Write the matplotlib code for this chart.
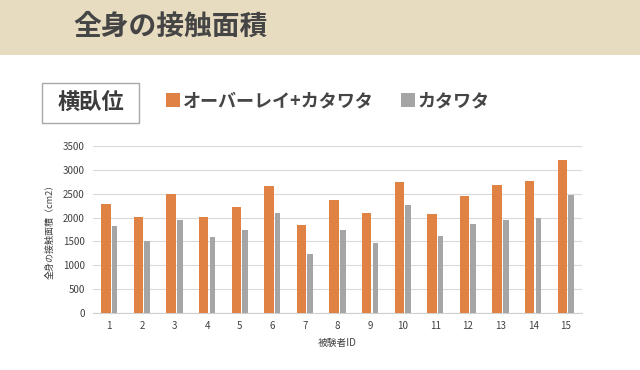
import numpy as np
import matplotlib
matplotlib.use("Agg")
import matplotlib.pyplot as plt
from matplotlib.patches import Rectangle

plt.rcParams['font.family'] = ['Noto Sans CJK JP', 'DejaVu Sans']

# data
subjects = [str(i) for i in range(1, 16)]
overlay = [2290, 2010, 2500, 2010, 2230, 2655, 1845, 2360, 2100, 2740, 2085, 2450, 2685, 2760, 3215]
cotton = [1830, 1515, 1945, 1590, 1740, 2090, 1235, 1735, 1470, 2260, 1615, 1875, 1950, 2000, 2475]
yticks = [0, 500, 1000, 1500, 2000, 2500, 3000, 3500]

title = "全身の接触面積"
posture = "横臥位"
series_names = ["オーバーレイ+カタワタ", "カタワタ"]
xlabel = "被験者ID"
ylabel = "全身の接触面積（cm2）"

orange = "#DF8244"
gray = "#A5A5A5"
text_col = "#404040"

fig = plt.figure(figsize=(6.4, 3.7), dpi=100)
W, H = 640, 370

# header band
fig.patches.append(Rectangle((0, 1 - 55 / H), 1, 55 / H, transform=fig.transFigure,
                             facecolor="#E7DCC0", edgecolor="none", zorder=0))
fig.text(73 / W, 1 - 27 / H, title, fontsize=20, color="#454545",
         fontweight="bold", va="center", ha="left")

# posture box
fig.patches.append(Rectangle((42 / W, 1 - 123 / H), 97 / W, 40 / H, transform=fig.transFigure,
                             facecolor="white", edgecolor="#A8A8A8", linewidth=1.0))
fig.text(90.5 / W, 1 - 103 / H, posture, fontsize=16, color="#3c3c3c",
         fontweight="bold", va="center", ha="center")

ax = fig.add_axes([93 / W, 1 - 313 / H, 489 / W, 167 / H])
x = np.arange(len(subjects))
b1 = ax.bar(x - 0.107, overlay, width=0.288, color=orange, zorder=3)
b2 = ax.bar(x + 0.164, cotton, width=0.175, color=gray, zorder=3)

ax.set_xlim(-0.5, len(subjects) - 0.5)
ax.set_ylim(0, 3500)
ax.set_yticks(yticks)
ax.set_yticklabels([str(v) for v in yticks])
ax.set_xticks(x)
ax.set_xticklabels(subjects)
ax.tick_params(length=0, labelsize=7, colors=text_col, pad=6)
ax.yaxis.grid(True, color="#DADADA", linewidth=0.8, zorder=0)
for s in ["top", "right", "left"]:
    ax.spines[s].set_visible(False)
ax.spines["bottom"].set_color("#D0D0D0")
ax.set_xlabel(xlabel, fontsize=7, color=text_col, labelpad=5)
ax.set_ylabel(ylabel, fontsize=6.5, color=text_col, labelpad=6)

fig.legend([b1, b2], series_names, loc="center left",
           bbox_to_anchor=(166 / W, 1 - 101 / H), ncol=2, frameon=False,
           prop={"size": 13, "weight": "bold"}, labelcolor="#454545",
           handlelength=0.78, handleheight=0.78, handletextpad=0.13,
           columnspacing=1.55, borderpad=0, borderaxespad=0)

fig.savefig("out.png", dpi=100)
